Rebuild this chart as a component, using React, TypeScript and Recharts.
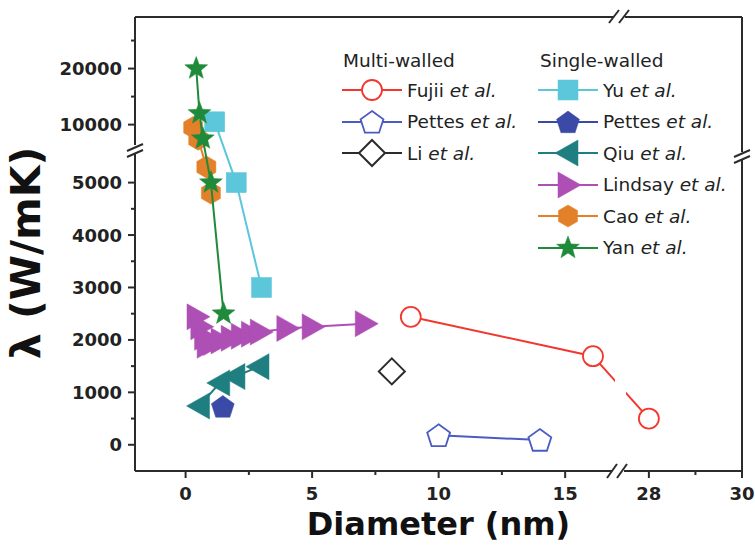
import React from 'react';
import { ScatterChart, Scatter, XAxis, YAxis, Label, ReferenceLine } from 'recharts';

// diameter (nm) and thermal conductivity λ (W/mK)
const fujiiD = [8.9, 16.1, 28.0];
const fujiiL = [2440, 1690, 500];
const pettesMwD = [10.0, 14.0];
const pettesMwL = [180, 90];
const liD = [8.15];
const liL = [1400];
const yuD = [1.15, 2.0, 3.0];
const yuL = [10500, 5000, 3000];
const pettesSwD = [1.47];
const pettesSwL = [730];
const qiuD = [0.55, 1.35, 1.95, 2.9];
const qiuL = [740, 1180, 1300, 1490];
const lindsayD = [0.45, 0.6, 0.75, 0.85, 1.1, 1.4, 1.8, 2.2, 2.6, 2.95, 4.0, 5.0, 7.1];
const lindsayL = [2440, 2250, 2050, 1900, 1950, 1980, 2030, 2070, 2110, 2150, 2220, 2250, 2310];
const caoD = [0.3, 0.5, 0.82, 1.0];
const caoL = [9500, 7400, 5300, 4800];
const yanD = [0.42, 0.55, 0.68, 1.0, 1.5];
const yanL = [20000, 12000, 7500, 5000, 2500];

const xMajor = [0, 5, 10, 15, 28, 30];
const xMinor = [2.5, 7.5, 12.5, 29];
const yMajor = [0, 1000, 2000, 3000, 4000, 5000, 10000, 20000];
const yMinor = [500, 1500, 2500, 3500, 4500, 15000, 25000];

// broken axes: x jumps from 17.15 to 27.37 nm, y from 5610 to 5360 (upper part compressed)
const X_LO = 17.15;
const X_HI = 27.37;
const X_RIGHT = 1.84;
const Y_LO = 5610;
const Y_HI = 5360;
const Y_UP = 0.1069;

const toX = (v: number) => (v <= X_LO ? v : X_LO + (v - X_HI) * X_RIGHT);
const fromX = (d: number) => (d <= X_LO + 1e-9 ? d : X_HI + (d - X_LO) / X_RIGHT);
const toY = (v: number) => (v <= Y_LO ? v : Y_LO + (v - Y_HI) * Y_UP);
const fromY = (d: number) => (d <= Y_LO + 1e-9 ? d : Y_HI + (d - Y_LO) / Y_UP);

const X_DOMAIN = [-2, toX(30)];
const Y_DOMAIN = [-500, toY(29200)];

const xMajorD = xMajor.map(toX);
const xTicks = [...xMajorD, ...xMinor.map(toX)].sort((a, b) => a - b);
const yMajorD = yMajor.map(toY);
const yTicks = [...yMajorD, ...yMinor.map(toY)].sort((a, b) => a - b);

const FRAME = '#2b2b2b';
const tickFont = { fontFamily: 'DejaVu Sans', fontWeight: 700, fontSize: 18, fill: '#222' };

const SERIES = [
  { key: 'fujii', name: 'Fujii', d: fujiiD, l: fujiiL, color: '#f2382e', kind: 'circle', open: true, group: 'multi' },
  { key: 'pettesMw', name: 'Pettes', d: pettesMwD, l: pettesMwL, color: '#4a5bc4', kind: 'pentagon', open: true, group: 'multi' },
  { key: 'li', name: 'Li', d: liD, l: liL, color: '#2b2b2b', kind: 'diamond', open: true, group: 'multi' },
  { key: 'yu', name: 'Yu', d: yuD, l: yuL, color: '#5cc6da', kind: 'square', open: false, group: 'single' },
  { key: 'pettesSw', name: 'Pettes', d: pettesSwD, l: pettesSwL, color: '#3a4aa6', kind: 'pentagon', open: false, group: 'single' },
  { key: 'qiu', name: 'Qiu', d: qiuD, l: qiuL, color: '#1f7f80', kind: 'triLeft', open: false, group: 'single' },
  { key: 'lindsay', name: 'Lindsay', d: lindsayD, l: lindsayL, color: '#ae4fb5', kind: 'triRight', open: false, group: 'single' },
  { key: 'cao', name: 'Cao', d: caoD, l: caoL, color: '#e3812a', kind: 'hexagon', open: false, group: 'single' },
  { key: 'yan', name: 'Yan', d: yanD, l: yanL, color: '#1f8a3a', kind: 'star', open: false, group: 'single' },
];

const ngon = (cx: number, cy: number, r: number, n: number) =>
  Array.from({ length: n }, (_, i) => {
    const a = -Math.PI / 2 + (i * 2 * Math.PI) / n;
    return `${cx + r * Math.cos(a)},${cy + r * Math.sin(a)}`;
  }).join(' ');

const starPts = (cx: number, cy: number, r: number) =>
  Array.from({ length: 10 }, (_, i) => {
    const a = -Math.PI / 2 + (i * Math.PI) / 5;
    const rr = i % 2 === 0 ? r : r * 0.42;
    return `${cx + rr * Math.cos(a)},${cy + rr * Math.sin(a)}`;
  }).join(' ');

function Marker({ kind, cx, cy, color, open }: any) {
  const fill = open ? '#fff' : color;
  const common = { fill, stroke: color, strokeWidth: open ? 1.8 : 0.5 };
  switch (kind) {
    case 'circle':
      return <circle cx={cx} cy={cy} r={10} {...common} />;
    case 'square':
      return <rect x={cx - 10} y={cy - 10} width={20} height={20} {...common} />;
    case 'pentagon':
      return <polygon points={ngon(cx, cy + 1, 12, 5)} {...common} />;
    case 'hexagon':
      return <polygon points={ngon(cx, cy, 11, 6)} {...common} />;
    case 'diamond':
      return <polygon points={`${cx},${cy - 13} ${cx + 13},${cy} ${cx},${cy + 13} ${cx - 13},${cy}`} {...common} strokeWidth={2} />;
    case 'triLeft':
      return <polygon points={`${cx - 13},${cy} ${cx + 10},${cy - 13} ${cx + 10},${cy + 13}`} {...common} />;
    case 'triRight':
      return <polygon points={`${cx + 13},${cy} ${cx - 10},${cy - 13} ${cx - 10},${cy + 13}`} {...common} />;
    case 'star':
      return <polygon points={starPts(cx, cy, 12)} {...common} />;
    default:
      return null;
  }
}

const XTick = (p: any) => {
  const v = p.payload.value;
  const major = xMajorD.some(m => Math.abs(m - v) < 1e-6);
  return (
    <g>
      <line x1={p.x} x2={p.x} y1={p.y} y2={p.y + (major ? 7 : 4)} stroke={FRAME} strokeWidth={2} />
      {major && (
        <text x={p.x} y={p.y + 16} dy="0.71em" textAnchor="middle" style={tickFont}>
          {Math.round(fromX(v))}
        </text>
      )}
    </g>
  );
};

const YTick = (p: any) => {
  const v = p.payload.value;
  const major = yMajorD.some(m => Math.abs(m - v) < 1e-6);
  return (
    <g>
      <line x1={p.x} x2={p.x - (major ? 7 : 4)} y1={p.y} y2={p.y} stroke={FRAME} strokeWidth={2} />
      {major && (
        <text x={p.x - 13} y={p.y} dy="0.36em" textAnchor="end" style={tickFont}>
          {Math.round(fromY(v))}
        </text>
      )}
    </g>
  );
};

const LegendRow = ({ s, x, y }: any) => (
  <div style={{ position: 'absolute', left: x, top: y - 15, height: 30, display: 'flex', alignItems: 'center' }}>
    <svg width={60} height={30} style={{ overflow: 'visible' }}>
      <line x1={0} x2={60} y1={15} y2={15} stroke={s.color} strokeWidth={2.2} />
      <Marker kind={s.kind} cx={30} cy={15} color={s.color} open={s.open} />
    </svg>
    <span style={{ marginLeft: 5, fontSize: 18.5, color: '#222', whiteSpace: 'nowrap' }}>
      {s.name} <i>et al.</i>
    </span>
  </div>
);

export default function App() {
  const multi = SERIES.filter(s => s.group === 'multi');
  const single = SERIES.filter(s => s.group === 'single');
  return (
    <div style={{ position: 'absolute', left: 0, top: 0, width: 755, height: 552, background: '#fff', fontFamily: 'DejaVu Sans' }}>
      <ScatterChart width={755} height={552} margin={{ top: 17, right: 13, bottom: 0, left: 0 }}>
        <XAxis
          xAxisId="b"
          type="number"
          dataKey="x"
          domain={X_DOMAIN}
          allowDataOverflow
          ticks={xTicks}
          interval={0}
          tickSize={0}
          tickMargin={0}
          tickLine={false}
          tick={<XTick />}
          height={81}
          axisLine={{ stroke: FRAME, strokeWidth: 2 }}
        >
          <Label
            content={(props: any) => {
              const vb = props.viewBox;
              return (
                <text x={vb.x + vb.width / 2} y={vb.y + 64} textAnchor="middle"
                  style={{ fontFamily: 'DejaVu Sans', fontWeight: 700, fontSize: 32, fill: '#111' }}>
                  Diameter (nm)
                </text>
              );
            }}
          />
        </XAxis>
        <YAxis
          yAxisId="l"
          type="number"
          dataKey="y"
          domain={Y_DOMAIN}
          allowDataOverflow
          ticks={yTicks}
          interval={0}
          tickSize={0}
          tickMargin={0}
          tickLine={false}
          tick={<YTick />}
          width={135}
          axisLine={{ stroke: FRAME, strokeWidth: 2 }}
        >
          <Label
            content={(props: any) => {
              const vb = props.viewBox;
              const cx = vb.x + 26;
              const cy = vb.y + vb.height / 2 + 9;
              return (
                <text x={cx} y={cy} textAnchor="middle" dominantBaseline="central" transform={`rotate(-90 ${cx} ${cy})`}
                  style={{ fontFamily: 'DejaVu Sans', fontWeight: 700, fontSize: 41, fill: '#111' }}>
                  λ (W/mK)
                </text>
              );
            }}
          />
        </YAxis>
        {/* top and right edges of the frame */}
        <ReferenceLine xAxisId="b" yAxisId="l" y={Y_DOMAIN[1]} stroke={FRAME} strokeWidth={2} ifOverflow="visible" />
        <ReferenceLine xAxisId="b" yAxisId="l" x={X_DOMAIN[1]} stroke={FRAME} strokeWidth={2} ifOverflow="visible" />
        {SERIES.map(s => (
          <Scatter
            key={s.key}
            name={s.name}
            xAxisId="b"
            yAxisId="l"
            data={s.d.map((d, i) => ({ x: toX(d), y: toY(s.l[i]) }))}
            line={{ stroke: s.color, strokeWidth: 2 }}
            shape={(p: any) => <Marker kind={s.kind} cx={p.cx} cy={p.cy} color={s.color} open={s.open} />}
            isAnimationActive={false}
          />
        ))}
      </ScatterChart>

      {/* axis break marks */}
      <svg width={755} height={552} style={{ position: 'absolute', left: 0, top: 0, pointerEvents: 'none' }}>
        <rect x={615} y={372} width={11} height={32} fill="#fff" />
        <g stroke={FRAME} strokeWidth={2}>
          <rect x={612} y={467} width={12} height={8} fill="#fff" stroke="none" />
          <line x1={607} y1={478} x2={617} y2={464} />
          <line x1={617} y1={478} x2={627} y2={464} />
          <rect x={613} y={13} width={12} height={8} fill="#fff" stroke="none" />
          <line x1={609} y1={23} x2={619} y2={10} />
          <line x1={619} y1={23} x2={629} y2={10} />
          <rect x={131} y={145} width={8} height={8} fill="#fff" stroke="none" />
          <line x1={127} y1={151} x2={143} y2={144} />
          <line x1={127} y1={157} x2={143} y2={150} />
          <rect x={738} y={152} width={8} height={7} fill="#fff" stroke="none" />
          <line x1={734} y1={157} x2={750} y2={150} />
          <line x1={734} y1={163} x2={750} y2={156} />
        </g>
      </svg>

      {/* legend */}
      <div style={{ position: 'absolute', left: 0, top: 0 }}>
        <div style={{ position: 'absolute', left: 343, top: 50, fontSize: 18.5, color: '#222', whiteSpace: 'nowrap' }}>Multi-walled</div>
        <div style={{ position: 'absolute', left: 540, top: 50, fontSize: 18.5, color: '#222', whiteSpace: 'nowrap' }}>Single-walled</div>
        {multi.map((s, i) => <LegendRow key={s.key} s={s} x={342} y={90 + i * 31.5} />)}
        {single.map((s, i) => <LegendRow key={s.key} s={s} x={538} y={90 + i * 31.5} />)}
      </div>
    </div>
  );
}
